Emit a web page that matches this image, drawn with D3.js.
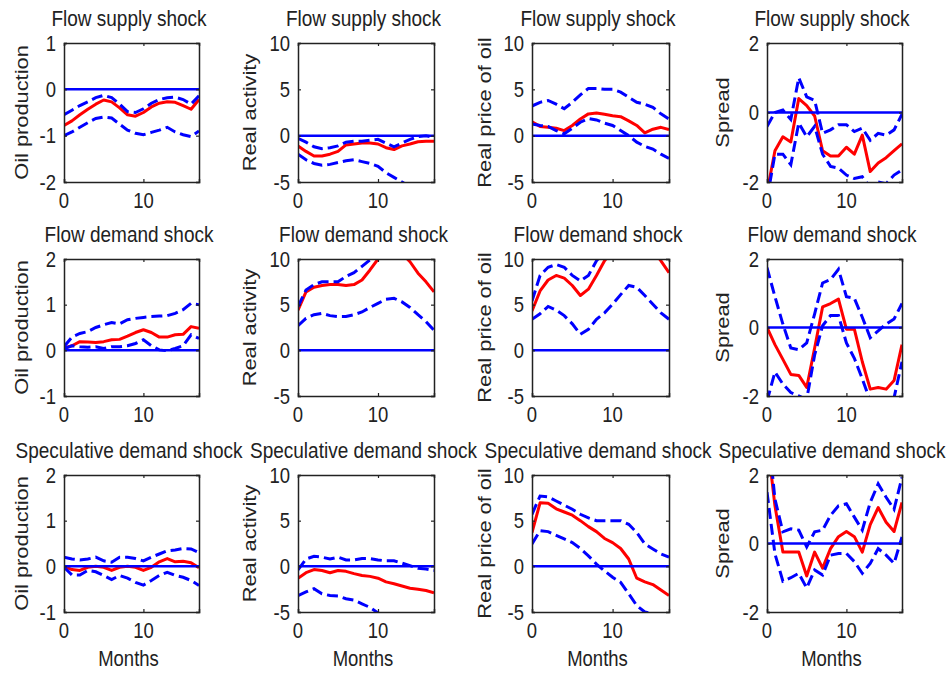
<!DOCTYPE html>
<html><head><meta charset="utf-8">
<script src="https://cdn.jsdelivr.net/npm/d3@7"></script>
<style>body{margin:0;background:#fff}svg{display:block}</style>
</head><body>
<svg id="chart" width="948" height="674"></svg>
<script>
// ---------- data ----------
const months = [0,1,2,3,4,5,6,7,8,9,10,11,12,13,14,15,16,17];
const xTicks = [0, 10];
const shocks = ["Flow supply shock", "Flow demand shock", "Speculative demand shock"];
const variables = ["Oil production", "Real activity", "Real price of oil", "Spread"];
const xLabel = "Months";

const oilTicksSupply = [-2, -1, 0, 1];
const oilTicks = [-1, 0, 1, 2];
const actTicks = [-5, 0, 5, 10];
const priceTicks = [-5, 0, 5, 10];
const spreadTicks = [-2, 0, 2];

// Flow supply shock
const supplyOilMid = [-0.78,-0.68,-0.55,-0.43,-0.32,-0.23,-0.27,-0.40,-0.55,-0.58,-0.50,-0.38,-0.30,-0.27,-0.28,-0.35,-0.43,-0.22];
const supplyOilHi  = [-0.55,-0.45,-0.35,-0.27,-0.18,-0.13,-0.18,-0.32,-0.48,-0.50,-0.42,-0.30,-0.22,-0.18,-0.17,-0.22,-0.32,-0.14];
const supplyOilLo  = [-1.00,-0.92,-0.82,-0.72,-0.63,-0.60,-0.62,-0.75,-0.88,-0.95,-0.98,-0.93,-0.88,-0.82,-0.92,-0.98,-1.02,-0.90];
const supplyActMid = [-1.1,-1.7,-2.2,-2.2,-2.0,-1.7,-1.0,-0.9,-0.8,-0.8,-0.9,-1.3,-1.5,-1.1,-0.9,-0.65,-0.6,-0.6];
const supplyActHi  = [-0.3,-0.7,-1.2,-1.4,-1.3,-1.1,-0.7,-0.6,-0.6,-0.5,-0.4,-0.8,-1.2,-0.8,-0.4,-0.1,0.0,-0.2];
const supplyActLo  = [-2.0,-2.6,-3.0,-3.2,-3.1,-2.9,-2.7,-2.6,-2.8,-3.0,-3.3,-4.0,-4.5,-5.0,-5.5,-6.0,-6.3,-6.5];
const supplyPriceMid = [1.5,1.0,0.9,0.8,0.55,1.1,1.8,2.35,2.45,2.3,2.15,2.05,1.6,1.1,0.3,0.7,0.9,0.65];
const supplyPriceHi  = [3.2,3.6,3.8,3.4,2.9,3.6,4.4,5.1,5.1,5.0,5.0,4.7,4.15,3.6,3.4,3.05,2.35,1.8];
const supplyPriceLo  = [1.25,1.1,1.0,0.55,0.2,0.8,1.45,1.85,1.7,1.35,1.1,0.55,0.0,-0.7,-1.15,-1.45,-2.0,-2.45];
const supplySpreadMid = [-2.3,-1.1,-0.7,-0.85,0.4,0.2,-0.1,-1.1,-1.25,-1.25,-1.0,-1.2,-0.65,-1.7,-1.45,-1.3,-1.1,-0.9];
const supplySpreadHi  = [-0.4,0.0,0.07,-0.2,1.0,0.45,0.35,-0.6,-0.5,-0.35,-0.35,-0.55,-0.45,-0.8,-0.6,-0.65,-0.5,-0.05];
const supplySpreadLo  = [-2.5,-1.2,-1.2,-1.5,-0.3,-0.7,-0.4,-1.2,-1.55,-1.6,-1.8,-1.9,-1.85,-2.15,-2.0,-2.05,-1.8,-1.65];

// Flow demand shock
const demandOilMid = [0.05,0.1,0.19,0.18,0.17,0.19,0.23,0.24,0.31,0.39,0.45,0.39,0.29,0.29,0.34,0.35,0.52,0.48];
const demandOilHi  = [0.08,0.29,0.37,0.41,0.5,0.56,0.61,0.58,0.67,0.7,0.72,0.74,0.75,0.76,0.81,0.89,1.03,1.0];
const demandOilLo  = [0.04,0.1,0.08,0.07,0.08,0.04,0.08,0.08,0.1,0.15,0.23,0.1,0.01,-0.01,0.04,0.1,0.34,0.26];
const demandActMid = [4.4,6.4,6.9,7.1,7.2,7.2,7.1,7.2,7.7,8.8,10.0,10.8,11.0,10.6,9.7,8.45,7.5,6.4];
const demandActHi  = [4.8,6.6,7.2,7.5,7.5,7.5,8.1,8.5,9.2,9.9,10.8,11.5,12.0,12.4,12.6,12.6,12.4,12.0];
const demandActLo  = [2.7,3.5,3.9,4.05,3.8,3.7,3.7,3.9,4.2,4.7,5.15,5.6,5.7,5.3,4.7,3.9,3.15,2.2];
const demandPriceMid = [4.3,6.5,7.7,8.2,7.9,7.1,6.0,6.7,8.2,9.8,10.9,11.6,12.0,12.0,11.6,10.9,9.8,8.5];
const demandPriceHi  = [5.4,8.2,9.1,9.4,9.1,8.2,7.6,8.2,9.8,10.8,11.8,12.6,13.2,13.5,13.5,13.2,12.6,12.0];
const demandPriceLo  = [3.4,4.0,4.8,4.4,3.8,2.9,1.75,2.3,3.4,4.1,5.05,6.1,7.1,6.9,6.0,5.05,4.1,3.4];
const demandSpreadMid = [0,-0.5,-0.93,-1.37,-1.4,-1.75,-0.6,0.6,0.7,0.83,-0.05,-0.05,-1.0,-1.8,-1.75,-1.8,-1.55,-0.5];
const demandSpreadHi  = [1.75,0.9,0.1,-0.6,-0.65,-0.45,0.4,1.3,1.4,1.7,0.9,0.85,0.3,-0.3,-0.1,0.1,0.25,0.7];
const demandSpreadLo  = [-2.15,-1.3,-1.65,-1.9,-2.0,-2.1,-0.8,0.05,0.35,0.35,-0.45,-0.9,-1.5,-2.15,-2.35,-2.25,-2.05,-1.0];

// Speculative demand shock
const specOilMid = [0,-0.07,-0.09,-0.02,0,-0.02,-0.09,-0.02,0,-0.02,-0.09,-0.02,0.1,0.17,0.1,0.11,0.08,-0.03];
const specOilHi  = [0.2,0.16,0.14,0.16,0.2,0.12,0.09,0.2,0.2,0.17,0.12,0.2,0.27,0.34,0.36,0.39,0.38,0.3];
const specOilLo  = [-0.02,-0.19,-0.19,-0.09,-0.12,-0.2,-0.29,-0.2,-0.26,-0.35,-0.41,-0.31,-0.2,-0.13,-0.2,-0.24,-0.31,-0.42];
const specActMid = [-1.3,-0.7,-0.35,-0.45,-0.7,-0.45,-0.55,-0.8,-1.0,-1.1,-1.3,-1.7,-1.9,-2.15,-2.4,-2.5,-2.65,-2.9];
const specActHi  = [-0.4,0.8,1.1,1.0,0.8,1.0,0.7,0.7,0.85,0.85,0.7,0.6,0.6,0.35,0.07,-0.2,-0.3,-0.45];
const specActLo  = [-3.2,-2.8,-2.45,-3.0,-3.2,-3.25,-3.55,-3.7,-4.1,-4.5,-5.1,-5.5,-6.0,-6.4,-6.8,-7.1,-7.4,-7.7];
const specPriceMid = [3.7,6.95,6.9,6.3,5.95,5.6,5.0,4.35,3.8,3.05,2.6,1.95,0.8,-1.3,-1.7,-2.0,-2.6,-3.2];
const specPriceHi  = [5.7,7.7,7.6,7.15,6.7,6.25,5.7,5.3,5.0,5.0,5.0,5.0,4.6,3.7,2.45,1.9,1.35,1.0];
const specPriceLo  = [2.45,3.9,3.8,3.4,3.0,2.6,1.95,1.15,0.25,-0.5,-1.2,-1.75,-3.0,-4.3,-5.0,-5.2,-5.7,-6.0];
const specSpreadMid = [3.1,1.1,-0.25,-0.25,-0.25,-0.95,-0.25,-0.72,-0.15,0.2,0.35,0.2,-0.25,0.55,1.05,0.62,0.35,1.2];
const specSpreadHi  = [3.6,1.3,0.34,0.43,0.39,-0.1,0.34,0.39,0.82,1.1,1.16,0.77,0.39,1.2,1.74,1.35,1.0,1.93];
const specSpreadLo  = [1.5,-0.3,-1.1,-1.0,-0.87,-1.3,-0.77,-0.92,-0.34,-0.29,-0.29,-0.53,-0.87,-0.58,-0.15,-0.34,-0.58,0.19];

// ---------- panels (built from the arrays above) ----------
const panels = [
  [ {ticks: oilTicksSupply, mid: supplyOilMid, hi: supplyOilHi, lo: supplyOilLo},
    {ticks: actTicks, mid: supplyActMid, hi: supplyActHi, lo: supplyActLo},
    {ticks: priceTicks, mid: supplyPriceMid, hi: supplyPriceHi, lo: supplyPriceLo},
    {ticks: spreadTicks, mid: supplySpreadMid, hi: supplySpreadHi, lo: supplySpreadLo} ],
  [ {ticks: oilTicks, mid: demandOilMid, hi: demandOilHi, lo: demandOilLo},
    {ticks: actTicks, mid: demandActMid, hi: demandActHi, lo: demandActLo},
    {ticks: priceTicks, mid: demandPriceMid, hi: demandPriceHi, lo: demandPriceLo},
    {ticks: spreadTicks, mid: demandSpreadMid, hi: demandSpreadHi, lo: demandSpreadLo} ],
  [ {ticks: oilTicks, mid: specOilMid, hi: specOilHi, lo: specOilLo},
    {ticks: actTicks, mid: specActMid, hi: specActHi, lo: specActLo},
    {ticks: priceTicks, mid: specPriceMid, hi: specPriceHi, lo: specPriceLo},
    {ticks: spreadTicks, mid: specSpreadMid, hi: specSpreadHi, lo: specSpreadLo} ]
];

// ---------- layout ----------
const colX = [64, 298, 532, 767];
const colW = [135, 136, 137, 135];
const rowY = [43, 259, 475];
const rowH = [139, 137, 137];
const ylabOffset = [36.5, 42.5, 41.5, 38.5];
const SY = 1.18;           // vertical stretch of the original raster
const FONT = "'Liberation Sans', Arial, Helvetica, sans-serif";
const TXT = "#222";

const svg = d3.select("#chart");

function addText(g, str, x, y, opts) {
  const t = g.append("text")
    .attr("transform", `translate(${x},${y}) scale(1,${SY})` + (opts.rotate ? " rotate(-90)" : ""))
    .attr("font-family", FONT)
    .attr("font-size", opts.size)
    .attr("fill", TXT)
    .attr("text-anchor", opts.anchor || "middle")
    .text(str);
  return t;
}

panels.forEach((row, r) => {
  row.forEach((p, c) => {
    const x0 = colX[c], y0 = rowY[r], w = colW[c], h = rowH[r];
    const ticks = p.ticks;
    const x = d3.scaleLinear().domain([0, 17]).range([x0, x0 + w]);
    const y = d3.scaleLinear().domain([ticks[0], ticks[ticks.length - 1]]).range([y0 + h, y0]);
    const g = svg.append("g");
    const clipId = `clip-${r}-${c}`;
    svg.append("clipPath").attr("id", clipId)
      .append("rect").attr("x", x0).attr("y", y0).attr("width", w).attr("height", h);

    const plot = g.append("g").attr("clip-path", `url(#${clipId})`);
    const line = d3.line().x((d, i) => x(months[i])).y(d => y(d));

    plot.append("path").datum(p.mid).attr("d", line)
      .attr("fill", "none").attr("stroke", "#ff0000").attr("stroke-width", 3)
      .attr("stroke-linejoin", "round");
    [p.hi, p.lo].forEach(s => {
      plot.append("path").datum(s).attr("d", line)
        .attr("fill", "none").attr("stroke", "#0000ff").attr("stroke-width", 3)
        .attr("stroke-dasharray", "11,5");
    });
    plot.append("path").datum(months.map(() => 0)).attr("d", line)
      .attr("fill", "none").attr("stroke", "#0000ff").attr("stroke-width", 2.5);

    // axes via d3 axis generators (inner ticks, MATLAB-like box)
    const axB = d3.axisBottom(x).tickValues(xTicks).tickSize(-3).tickFormat("");
    const axT = d3.axisTop(x).tickValues(xTicks).tickSize(-3).tickFormat("");
    const axL = d3.axisLeft(y).tickValues(ticks).tickSize(-3).tickFormat("");
    const axR = d3.axisRight(y).tickValues(ticks).tickSize(-3).tickFormat("");
    [[axB, `translate(0,${y0 + h})`], [axT, `translate(0,${y0})`],
     [axL, `translate(${x0},0)`], [axR, `translate(${x0 + w},0)`]].forEach(([ax, tr]) => {
      const a = g.append("g").attr("transform", tr).call(ax);
      a.select(".domain").attr("stroke", "#222").attr("stroke-width", 1.5);
      a.selectAll(".tick line").attr("stroke", "#222").attr("stroke-width", 1.2);
    });

    // tick labels
    xTicks.forEach(v => addText(g, String(v), x(v), y0 + h + 26, {size: 18.5}));
    ticks.forEach(v => addText(g, String(v), x0 - 8, y(v) + 7.8, {size: 18.5, anchor: "end"}));

    // title, y label
    addText(g, shocks[r], x0 + w / 2 - 2.5, y0 - 17, {size: 19});
    addText(g, variables[c], x0 - ylabOffset[c], y0 + h / 2, {size: 18.5, rotate: true});
    if (r === 2) addText(g, xLabel, x0 + w / 2 - 3, y0 + h + 54, {size: 18.5});
  });
});
</script>
</body></html>
